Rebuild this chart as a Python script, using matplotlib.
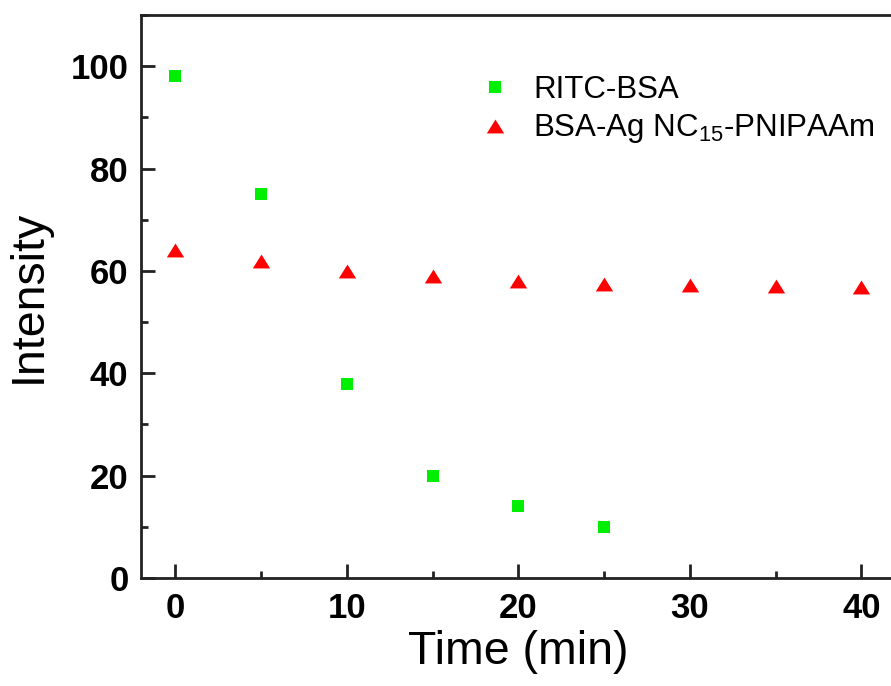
import matplotlib
matplotlib.use("Agg")
import matplotlib.pyplot as plt
from matplotlib.ticker import MultipleLocator

plt.rcParams['font.family'] = ['Liberation Sans', 'DejaVu Sans']
plt.rcParams['mathtext.fontset'] = 'custom'
plt.rcParams['mathtext.rm'] = 'Liberation Sans'

time_ritc = [0, 5, 10, 15, 20, 25]
intensity_ritc = [98, 75, 38, 20, 14, 10]

time_ag = [0, 5, 10, 15, 20, 25, 30, 35, 40]
intensity_ag = [64, 62, 60, 59, 58, 57.5, 57.2, 57, 56.8]

# a slightly flattened upward triangle
flat_triangle = [(0, 0.8), (-1, -0.8), (1, -0.8), (0, 0.8)]

fig = plt.figure(figsize=(8.91, 6.86), dpi=100)
ax = fig.add_axes([0.1582, 0.1574, 0.847, 0.8207])

ax.plot(time_ritc, intensity_ritc, linestyle='none', marker='s', markersize=8.5,
        color='#00ee00', markeredgewidth=0, label='RITC-BSA')
ax.plot(time_ag, intensity_ag, linestyle='none', marker=flat_triangle, markersize=12.5,
        color='#ff0000', markeredgewidth=0, label='BSA-Ag NC$_{15}$-PNIPAAm')

ax.set_xlim(-2, 42)
ax.set_ylim(0, 110)
ax.xaxis.set_major_locator(MultipleLocator(10))
ax.xaxis.set_minor_locator(MultipleLocator(5))
ax.yaxis.set_major_locator(MultipleLocator(20))
ax.yaxis.set_minor_locator(MultipleLocator(10))

for side in ['left', 'bottom', 'top', 'right']:
    ax.spines[side].set_linewidth(2)
    ax.spines[side].set_color('#222222')

ax.tick_params(which='both', direction='in', top=False, right=False,
               width=2, color='#222222')
ax.tick_params(which='major', length=10, labelsize=25)
ax.tick_params(axis='x', which='major', pad=10)
ax.tick_params(axis='y', which='major', pad=9)
ax.tick_params(which='minor', length=5)
for lab in ax.get_xticklabels() + ax.get_yticklabels():
    lab.set_fontweight('bold')

ax.set_xlabel('Time (min)', fontsize=33.5, labelpad=4)
ax.set_ylabel('Intensity', fontsize=33.5, labelpad=14)

ax.legend(loc='upper left', bbox_to_anchor=(0.411, 0.944), frameon=False,
          fontsize=22.5, handletextpad=0.72, labelspacing=0.25, handlelength=1.0)

fig.savefig('out.png', dpi=100)
